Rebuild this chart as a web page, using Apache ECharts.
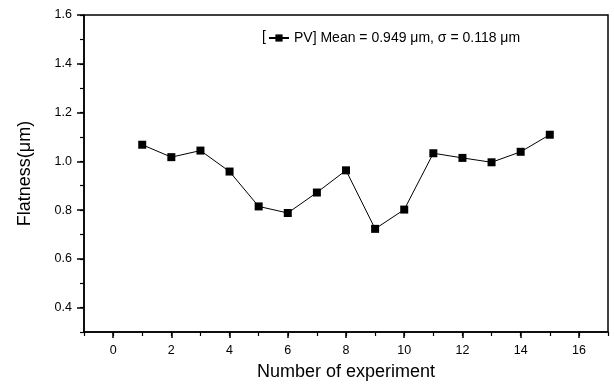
<!DOCTYPE html>
<html>
<head>
<meta charset="utf-8">
<script src="https://cdn.jsdelivr.net/npm/echarts@6/dist/echarts.min.js"></script>
<style>
  html, body { margin: 0; padding: 0; background: #fff; }
  #chart { width: 614px; height: 387px; }
</style>
</head>
<body>
<div id="chart"></div>
<script>
// data
var experiments = [1, 2, 3, 4, 5, 6, 7, 8, 9, 10, 11, 12, 13, 14, 15];
var flatness = [1.068, 1.017, 1.044, 0.958, 0.815, 0.788, 0.872, 0.963, 0.723, 0.802, 1.033, 1.014, 0.996, 1.039, 1.109];
var xTicks = [0, 2, 4, 6, 8, 10, 12, 14, 16];
var yTicks = [0.4, 0.6, 0.8, 1.0, 1.2, 1.4, 1.6];

var FONT = 'Liberation Sans';
var chart = echarts.init(document.getElementById('chart'));

var points = experiments.map(function (x, i) { return [x, flatness[i]]; });

chart.setOption({
  animation: false,
  grid: {
    left: 84, top: 15, right: 6, bottom: 55,
    show: true, borderColor: '#000', borderWidth: 1.5
  },
  legend: {
    left: 268, top: 31, padding: 0,
    itemWidth: 20, itemHeight: 9, itemGap: 0,
    textStyle: { fontFamily: FONT, fontSize: 14, color: '#000' },
    formatter: function () { return 'PV] Mean = 0.949 \u03bcm, \u03c3 = 0.118 \u03bcm'; },
    data: ['PV']
  },
  graphic: [{
    type: 'text', left: 262, top: 30,
    style: { text: '[', font: '14px ' + FONT, fill: '#000' }
  }],
  xAxis: [{
    type: 'value', min: -1, max: 17, position: 'bottom',
    name: 'Number of experiment', nameLocation: 'middle', nameGap: 31,
    nameTextStyle: { fontFamily: FONT, fontSize: 18, color: '#000' },
    axisLine: { onZero: false, lineStyle: { color: '#000', width: 1.5 } },
    axisTick: { customValues: xTicks, length: 6, lineStyle: { color: '#000', width: 1.5 } },
    axisLabel: { customValues: xTicks, margin: 12, fontFamily: FONT, fontSize: 12.5, color: '#000' },
    splitLine: { show: false }
  }, {
    type: 'value', min: -1, max: 17, interval: 1, position: 'bottom',
    axisLine: { show: false, onZero: false },
    axisTick: { length: 4, lineStyle: { color: '#000', width: 1.2 } },
    axisLabel: { show: false },
    splitLine: { show: false }
  }],
  yAxis: [{
    type: 'value', min: 0.3, max: 1.6, position: 'left',
    name: 'Flatness(\u03bcm)', nameLocation: 'middle', nameGap: 50,
    nameTextStyle: { fontFamily: FONT, fontSize: 18, color: '#000' },
    axisLine: { onZero: false, lineStyle: { color: '#000', width: 1.5 } },
    axisTick: { customValues: yTicks, length: 7, lineStyle: { color: '#000', width: 1.5 } },
    axisLabel: {
      customValues: yTicks, margin: 12, fontFamily: FONT, fontSize: 12.5, color: '#000',
      formatter: function (v) { return v.toFixed(1); }
    },
    splitLine: { show: false }
  }, {
    type: 'value', min: 0.3, max: 1.6, interval: 0.1, position: 'left',
    axisLine: { show: false, onZero: false },
    axisTick: { length: 4, lineStyle: { color: '#000', width: 1.2 } },
    axisLabel: { show: false },
    splitLine: { show: false }
  }],
  series: [{
    name: 'PV',
    type: 'line',
    xAxisIndex: 0, yAxisIndex: 0,
    data: points,
    symbol: 'rect', symbolSize: 8,
    itemStyle: { color: '#000' },
    lineStyle: { color: '#000', width: 1 }
  }]
});
</script>
</body>
</html>
